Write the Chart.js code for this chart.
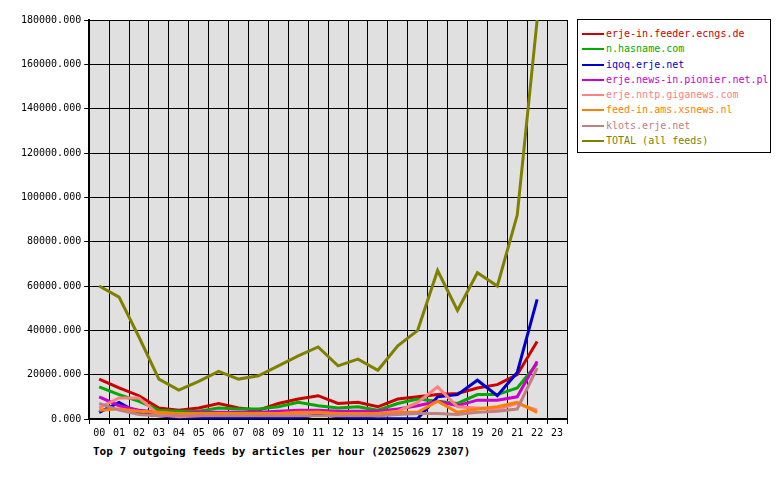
<!DOCTYPE html><html><head><script src="https://cdn.jsdelivr.net/npm/chart.js@4"></script>
<style>body{margin:0;background:#fff;font-family:"DejaVu Sans Mono",monospace}
#lg{position:absolute;left:577px;top:19px;width:194px;height:134px;border:1px solid #000;font-size:10px;box-sizing:border-box;padding:6px 0 0 4px}
#lg div{height:15.3px;line-height:15.3px;white-space:nowrap}
#lg span{display:inline-block;width:22px;height:2px;vertical-align:middle;margin-right:2px}
#tt{position:absolute;left:93px;top:445px;font-size:11px;font-weight:bold}</style></head><body>
<div style="position:absolute;left:0;top:0;width:575px;height:442px"><canvas id="c"></canvas></div>
<div id="lg"></div><div id="tt">Top 7 outgoing feeds by articles per hour (20250629 2307)</div>
<script>
const hours=["00","01","02","03","04","05","06","07","08","09","10","11","12","13","14","15","16","17","18","19","20","21","22","23"];
const names=["erje-in.feeder.ecngs.de","n.hasname.com","iqoq.erje.net","erje.news-in.pionier.net.pl","erje.nntp.giganews.com","feed-in.ams.xsnews.nl","klots.erje.net","TOTAL (all feeds)"];
const colors=["#cc0000","#00aa00","#0000cc","#cc00cc","#ff8080","#ff8000","#c08080","#808000"];
const red=[18000,14000,10500,5000,4000,5000,7000,5000,4000,7000,9000,10500,7000,7500,5500,9000,10000,11000,11500,14000,15500,20000,35000];
const green=[14500,11000,8000,4000,3500,3500,5000,4500,4500,5500,7500,6000,5000,5500,4000,7000,9000,8000,7000,11000,11000,14000,25000];
const blue=[3000,7500,2500,1500,500,300,500,800,700,500,500,2000,1000,500,100,100,200,10000,11000,17500,10500,21000,54000];
const magenta=[10000,6000,4000,3000,2500,3000,3000,3000,3000,3500,4000,4000,3500,3500,3500,4500,6000,8000,6000,8500,8500,10000,26000];
const pink=[5000,9500,9500,2000,1000,1500,2000,2000,2000,2500,2500,3000,2000,2000,2500,3500,7500,14500,5500,5000,4500,7000,4000];
const orange=[4000,4500,3500,3000,2500,2500,2500,2500,2500,2500,3000,3000,2500,2500,2500,3000,3000,8000,3000,4500,5500,7500,3000];
const klots=[7000,4000,2000,1500,1500,1500,1500,1500,1500,1500,1500,1500,1500,1500,1500,2000,2500,2500,2000,3000,3500,4500,23000];
const total=[60000,55000,37000,18000,13000,17000,21500,18000,19500,24000,28500,32500,24000,27000,22000,33000,40000,67000,49000,66000,60000,92000,180000];
const series=[red,green,blue,magenta,pink,orange,klots,total];
const lg=document.getElementById('lg');
names.forEach((n,i)=>{lg.innerHTML+=`<div style="color:${colors[i]}"><span style="background:${colors[i]}"></span>${n}</div>`});
const bg={id:'bg',beforeDraw(c){const a=c.chartArea,x=c.ctx;x.save();x.fillStyle='#e0e0e0';x.fillRect(a.left,a.top,a.right-a.left,a.bottom-a.top);x.restore();}};
const f={family:'DejaVu Sans Mono',size:10};
new Chart(document.getElementById('c'),{type:'line',plugins:[bg],
data:{labels:hours,datasets:series.map((d,i)=>({label:names[i],data:d,borderColor:colors[i],borderWidth:3,pointRadius:0,tension:0})).reverse()},
options:{responsive:true,maintainAspectRatio:false,animation:false,
layout:{padding:{top:20,right:8,bottom:0,left:18}},
plugins:{legend:{display:false},tooltip:{enabled:false}},
scales:{x:{offset:true,grid:{color:'#000',offset:true,tickLength:5},border:{color:'#000',width:2},ticks:{color:'#000',font:f,maxRotation:0,autoSkip:false}},
y:{min:0,max:180000,grid:{color:'#000',tickLength:5},border:{color:'#000',width:2},ticks:{stepSize:20000,color:'#000',font:f,callback:v=>v+'.000'}}}}});
</script></body></html>
